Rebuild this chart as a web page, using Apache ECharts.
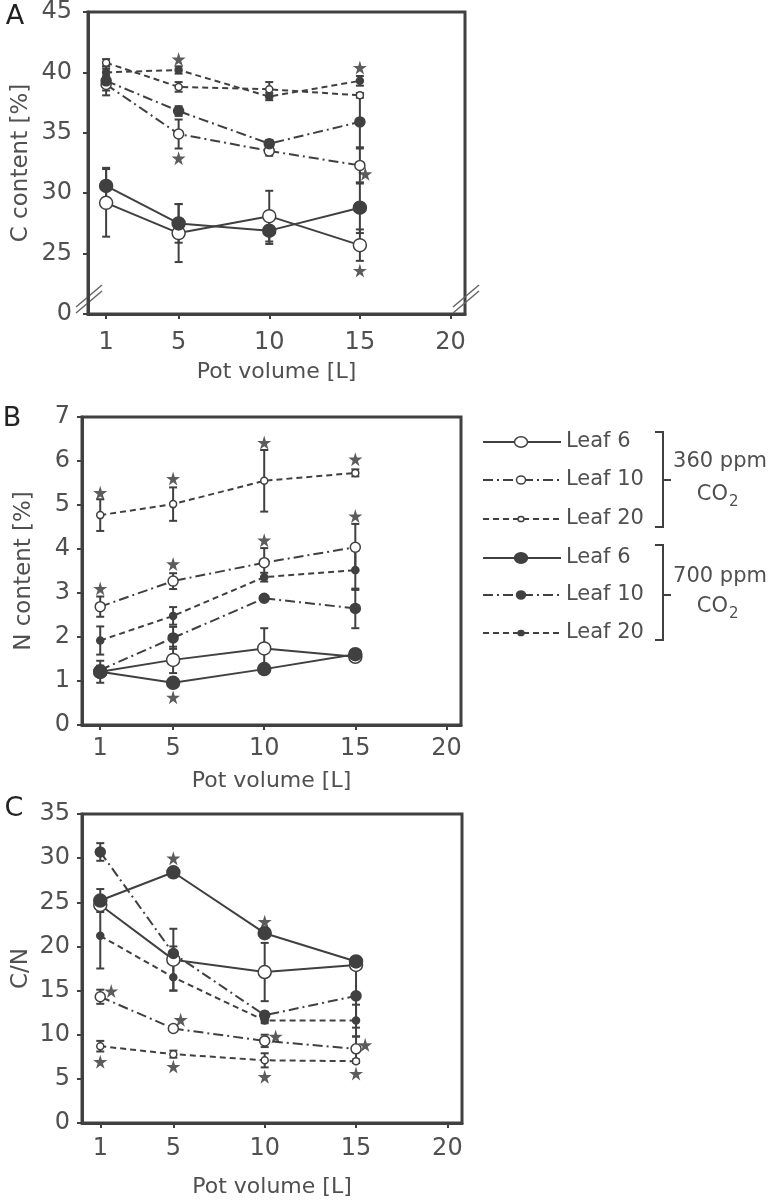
<!DOCTYPE html>
<html><head><meta charset="utf-8">
<script src="https://cdn.jsdelivr.net/npm/echarts@6/dist/echarts.min.js"></script>
<style>html,body{margin:0;padding:0;background:#fff;} #chart{width:772px;height:1200px;}</style>
</head><body><div id="chart"></div>
<script>
// ---------- DATA ----------
const potVolumes = [1, 5, 10, 15];
const xTickValues = [1, 5, 10, 15, 20];

// Panel A: C content [%]
const cLeaf6_360  = [29.2, 26.7, 28.1, 25.7];
const cLeaf6_360_err  = [2.8, 2.4, 2.1, 1.3];
const cLeaf10_360 = [39.0, 34.9, 33.5, 32.3];
const cLeaf10_360_err = [0.5, 1.2, 0.4, 1.5];
const cLeaf20_360 = [40.8, 38.8, 38.6, 38.1];
const cLeaf20_360_err = [0.3, 0.4, 0.6, 0.2];
const cLeaf6_700  = [30.6, 27.5, 26.9, 28.8];
const cLeaf6_700_err  = [1.5, 1.6, 1.1, 2.1];
const cLeaf10_700 = [39.3, 36.8, 34.1, 35.9];
const cLeaf10_700_err = [1.2, 0.4, 0.3, 2.2];
const cLeaf20_700 = [40.0, 40.2, 38.0, 39.3];
const cLeaf20_700_err = [0.3, 0.3, 0.3, 0.4];
const cStarsX = [5, 5, 15, 15.3, 15];
const cStarsY = [41.1, 32.9, 40.4, 31.6, 23.6];
const cTickLabels = {20: '0', 25: '25', 30: '30', 35: '35', 40: '40', 45: '45'};

// Panel B: N content [%]
const nLeaf6_360  = [1.21, 1.48, 1.74, 1.55];
const nLeaf6_360_err  = [0.25, 0.3, 0.46, 0.05];
const nLeaf10_360 = [2.69, 3.27, 3.69, 4.04];
const nLeaf10_360_err = [0.23, 0.18, 0.33, 0.53];
const nLeaf20_360 = [4.77, 5.02, 5.55, 5.73];
const nLeaf20_360_err = [0.36, 0.38, 0.7, 0.08];
const nLeaf6_700  = [1.21, 0.96, 1.27, 1.61];
const nLeaf6_700_err  = [0.1, 0.05, 0.05, 0.05];
const nLeaf10_700 = [1.25, 1.98, 2.88, 2.65];
const nLeaf10_700_err = [0.1, 0.25, 0.05, 0.45];
const nLeaf20_700 = [1.92, 2.48, 3.36, 3.52];
const nLeaf20_700_err = [0.32, 0.2, 0.1, 0.45];
const nStarsX = [1, 5, 10, 15, 1, 5, 10, 15, 5];
const nStarsY = [5.28, 5.6, 6.42, 6.04, 3.1, 3.66, 4.2, 4.75, 0.63];

// Panel C: C/N
const cnLeaf6_360  = [24.7, 18.5, 17.1, 17.9];
const cnLeaf6_360_err  = [0.5, 3.5, 3.3, 0.3];
const cnLeaf10_360 = [14.3, 10.7, 9.3, 8.4];
const cnLeaf10_360_err = [0.8, 0.3, 0.7, 1.4];
const cnLeaf20_360 = [8.7, 7.8, 7.1, 7.0];
const cnLeaf20_360_err = [0.6, 0.4, 0.8, 0.2];
const cnLeaf6_700  = [25.2, 28.4, 21.5, 18.3];
const cnLeaf6_700_err  = [1.3, 0.3, 0.3, 0.3];
const cnLeaf10_700 = [30.7, 19.2, 12.2, 14.4];
const cnLeaf10_700_err = [1.0, 0.8, 0.4, 3.6];
const cnLeaf20_700 = [21.2, 16.5, 11.6, 11.6];
const cnLeaf20_700_err = [3.7, 1.5, 0.3, 1.8];
const cnStarsX = [5, 10, 1.6, 5.4, 10.6, 15.5, 1, 5, 10, 15];
const cnStarsY = [30.0, 22.8, 14.95, 11.7, 9.8, 8.85, 6.95, 6.4, 5.25, 5.6];

const legendLabels = ['Leaf 6', 'Leaf 10', 'Leaf 20', 'Leaf 6', 'Leaf 10', 'Leaf 20'];
const groupLabels = ['360 ppm', '700 ppm'];

// ---------- STYLE ----------
const INK = '#404040';
const TXT = '#505050';
const FONT = '"DejaVu Sans", "Open Sans", sans-serif';
const STAR = 'path://M50,0 L61,35 L98,35 L68,57 L79,91 L50,70 L21,91 L32,57 L2,35 L39,35 Z';
const kinds = {
  L6:  {dash: 'solid', size: 13},
  L10: {dash: [10, 4, 2, 4], size: 10},
  L20: {dash: [6, 4], size: 7}
};

function lineSeries(gi, vals, kind, open) {
  const k = kinds[kind];
  return {
    type: 'line', xAxisIndex: gi, yAxisIndex: gi,
    data: potVolumes.map((x, i) => [x, vals[i]]),
    symbol: 'circle', symbolSize: k.size, z: open ? 4 : 5,
    lineStyle: {color: INK, width: 2, type: k.dash},
    itemStyle: {color: open ? '#fff' : INK, borderColor: INK, borderWidth: 1.5},
    emphasis: {disabled: true}, animation: false
  };
}
function errSeries(gi, vals, errs) {
  return {
    type: 'custom', xAxisIndex: gi, yAxisIndex: gi, z: 2,
    data: potVolumes.map((x, i) => [x, vals[i], errs[i]]),
    renderItem: function (params, api) {
      const x = api.value(0), v = api.value(1), e = api.value(2);
      const hi = api.coord([x, v + e]), lo = api.coord([x, v - e]);
      const st = {stroke: INK, lineWidth: 2};
      return {type: 'group', children: [
        {type: 'line', shape: {x1: hi[0], y1: hi[1], x2: lo[0], y2: lo[1]}, style: st},
        {type: 'line', shape: {x1: hi[0] - 4, y1: hi[1], x2: hi[0] + 4, y2: hi[1]}, style: st},
        {type: 'line', shape: {x1: lo[0] - 4, y1: lo[1], x2: lo[0] + 4, y2: lo[1]}, style: st}
      ]};
    },
    animation: false, silent: true
  };
}
function starSeries(gi, xs, ys) {
  return {
    type: 'scatter', xAxisIndex: gi, yAxisIndex: gi, z: 6,
    data: xs.map((x, i) => [x, ys[i]]),
    symbol: STAR, symbolSize: 14, itemStyle: {color: '#333'},
    emphasis: {disabled: true}, animation: false, silent: true
  };
}
function panelSeries(gi, d) {
  const out = [];
  d.forEach(s => out.push(errSeries(gi, s[0], s[1])));
  out.push(lineSeries(gi, d[0][0], 'L6', true));
  out.push(lineSeries(gi, d[1][0], 'L10', true));
  out.push(lineSeries(gi, d[2][0], 'L20', true));
  out.push(lineSeries(gi, d[3][0], 'L6', false));
  out.push(lineSeries(gi, d[4][0], 'L10', false));
  out.push(lineSeries(gi, d[5][0], 'L20', false));
  return out;
}

const series = [].concat(
  panelSeries(0, [[cLeaf6_360, cLeaf6_360_err], [cLeaf10_360, cLeaf10_360_err], [cLeaf20_360, cLeaf20_360_err],
                  [cLeaf6_700, cLeaf6_700_err], [cLeaf10_700, cLeaf10_700_err], [cLeaf20_700, cLeaf20_700_err]]),
  [starSeries(0, cStarsX, cStarsY)],
  panelSeries(1, [[nLeaf6_360, nLeaf6_360_err], [nLeaf10_360, nLeaf10_360_err], [nLeaf20_360, nLeaf20_360_err],
                  [nLeaf6_700, nLeaf6_700_err], [nLeaf10_700, nLeaf10_700_err], [nLeaf20_700, nLeaf20_700_err]]),
  [starSeries(1, nStarsX, nStarsY)],
  panelSeries(2, [[cnLeaf6_360, cnLeaf6_360_err], [cnLeaf10_360, cnLeaf10_360_err], [cnLeaf20_360, cnLeaf20_360_err],
                  [cnLeaf6_700, cnLeaf6_700_err], [cnLeaf10_700, cnLeaf10_700_err], [cnLeaf20_700, cnLeaf20_700_err]]),
  [starSeries(2, cnStarsX, cnStarsY)]
);

function xAxisCfg(gi, labelMargin, nameGap) {
  return {
    type: 'value', gridIndex: gi, min: 0, max: 20.8,
    name: 'Pot volume [L]', nameLocation: 'middle', nameGap: nameGap,
    nameTextStyle: {fontFamily: FONT, fontSize: 22, color: TXT},
    axisLine: {show: true, lineStyle: {color: INK, width: 3}},
    axisTick: {show: true, inside: false, length: 5, customValues: xTickValues, lineStyle: {color: INK, width: 2}},
    axisLabel: {customValues: xTickValues, margin: labelMargin, fontFamily: FONT, fontSize: 24, color: TXT},
    splitLine: {show: false}
  };
}
function yAxisCfg(gi, min, max, interval, name, nameGap, labelMargin, fmt) {
  return {
    type: 'value', gridIndex: gi, min: min, max: max, interval: interval,
    name: name, nameLocation: 'middle', nameGap: nameGap,
    nameTextStyle: {fontFamily: FONT, fontSize: 23, color: TXT},
    axisLine: {show: true, lineStyle: {color: INK, width: 3}},
    axisTick: {show: true, inside: false, length: 5, lineStyle: {color: INK, width: 2}},
    axisLabel: {margin: labelMargin, fontFamily: FONT, fontSize: 24, color: TXT, formatter: fmt},
    splitLine: {show: false}
  };
}

// legend (drawn as graphics)
const legendGraphics = [];
const legendYs = [442, 480, 519, 558, 595, 633];
const legendKinds = ['L6', 'L10', 'L20', 'L6', 'L10', 'L20'];
const legendR = {L6: [6.5, 5.2], L10: [4.5, 4], L20: [3, 2.6]};
legendYs.forEach((y, i) => {
  const k = kinds[legendKinds[i]];
  const open = i < 3;
  legendGraphics.push({type: 'line', shape: {x1: 483, y1: y, x2: 561, y2: y},
    style: {stroke: INK, lineWidth: 2, lineDash: k.dash === 'solid' ? null : k.dash}});
  const r = legendR[legendKinds[i]];
  legendGraphics.push({type: 'ellipse', shape: {cx: 521, cy: y, rx: r[0], ry: r[1]},
    style: {fill: open ? '#fff' : INK, stroke: INK, lineWidth: 1.5}});
  legendGraphics.push({type: 'text', x: 566, y: y, style: {text: legendLabels[i], font: '21px ' + FONT,
    fill: TXT, verticalAlign: 'middle'}});
});
[[432, 480, 527, 462, 495, 0], [545, 595, 640, 577, 607, 1]].forEach(b => {
  legendGraphics.push({type: 'polyline', shape: {points: [[655, b[0]], [663, b[0]], [663, b[2]], [655, b[2]]]},
    style: {stroke: INK, lineWidth: 2, fill: null}});
  legendGraphics.push({type: 'line', shape: {x1: 663, y1: b[1], x2: 671, y2: b[1]}, style: {stroke: INK, lineWidth: 2}});
  legendGraphics.push({type: 'text', x: 720, y: b[3], style: {text: groupLabels[b[5]], font: '21px ' + FONT,
    fill: TXT, align: 'center', verticalAlign: 'middle'}});
  legendGraphics.push({type: 'text', x: 728, y: b[4], style: {text: 'CO', font: '21px ' + FONT,
    fill: TXT, align: 'right', verticalAlign: 'middle'}});
  legendGraphics.push({type: 'text', x: 729, y: b[4] + 7, style: {text: '2', font: '15px ' + FONT,
    fill: TXT, align: 'left', verticalAlign: 'middle'}});
});
const panelLetters = [['A', 15, 17], ['B', 12, 419], ['C', 14, 809]];
panelLetters.forEach(p => legendGraphics.push({type: 'text', x: p[1], y: p[2],
  style: {text: p[0], font: '27px ' + FONT, fill: '#222', align: 'center', verticalAlign: 'middle'}}));

const option = {
  backgroundColor: '#fff',
  animation: false,
  grid: [
    {left: 88, top: 7, width: 377, height: 307, show: true, borderColor: INK, borderWidth: 3, backgroundColor: 'transparent'},
    {left: 82, top: 417, width: 379, height: 308, show: true, borderColor: INK, borderWidth: 3},
    {left: 82, top: 814, width: 380, height: 309, show: true, borderColor: INK, borderWidth: 3}
  ],
  xAxis: [xAxisCfg(0, 17, 47), xAxisCfg(1, 12, 45), xAxisCfg(2, 14, 53)],
  yAxis: [
    yAxisCfg(0, 20, 45, 5, 'C content [%]', 55, 16, v => cTickLabels[v]),
    yAxisCfg(1, 0, 7, 1, 'N content [%]', 46, 12, null),
    yAxisCfg(2, 0, 35, 5, 'C/N', 49, 12, null)
  ],
  series: series,
  graphic: legendGraphics
};

const chart = echarts.init(document.getElementById('chart'), null, {renderer: 'canvas'});
chart.setOption(option);

// axis break marks for panel A (positioned from the grid's corners)
const bl = chart.convertToPixel({gridIndex: 0}, [0, 20]);
const br = chart.convertToPixel({gridIndex: 0}, [20.8, 20]);
const breaks = [];
[bl, br].forEach(p => {
  [-3, 3].forEach(off => {
    breaks.push({type: 'line', shape: {x1: p[0] - 12, y1: p[1] - 4 + off, x2: p[0] + 14, y2: p[1] - 26 + off},
      style: {stroke: '#666', lineWidth: 1.5}});
  });
});
chart.setOption({graphic: legendGraphics.concat(breaks)});
</script></body></html>
